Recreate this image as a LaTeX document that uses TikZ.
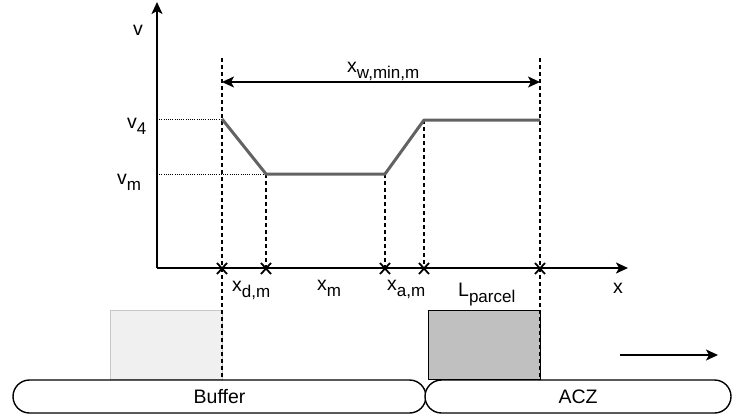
\documentclass[tikz,border=0pt]{standalone}
\usepackage{fontspec}
\setmainfont{Liberation Sans}
\usetikzlibrary{arrows.meta}
\definecolor{curvegray}{HTML}{626262}
\definecolor{parcelfill}{HTML}{C0C0C0}
\definecolor{ghostfill}{HTML}{F0F0F0}
\definecolor{ghostline}{HTML}{C8C8C8}
% symbol with a lowered, smaller subscript
\newcommand{\sublbl}[2]{#1\raisebox{-6pt}{\fontsize{17}{17}\selectfont #2}}
\begin{document}
\begin{tikzpicture}[x=1pt,y=-1pt,
  every node/.style={font=\fontsize{19.5}{22}\selectfont, inner sep=0pt},
  axis/.style={line width=1.8pt, -{Stealth[length=12pt,width=11pt,inset=3pt]}},
  guide/.style={line width=1.4pt, dash pattern=on 4pt off 3pt},
  level/.style={line width=1pt, dash pattern=on 1pt off 1.2pt},
  speed/.style={line width=3pt, draw=curvegray, line join=round},
  cross/.style={line width=1.8pt},
  belt/.style={draw, line width=1.4pt, rounded corners=16.5pt, fill=white,
    minimum height=33pt},
  load/.style={minimum width=112pt, minimum height=69pt, anchor=south west}
]
\useasboundingbox (0,0) rectangle (732,416);

% parcels standing on the belt
\node[load, draw=ghostline, fill=ghostfill, line width=1.2pt] (ghost) at (110,380) {};
\node[load, draw=black, fill=parcelfill, line width=1.4pt] (parcel) at (428,380) {};

% conveyor sections
\node[belt, minimum width=413pt] (buffer) at (219.5,396.5) {Buffer};
\node[belt, minimum width=306pt] (acz) at (578,396.5) {ACZ};

% axes
\coordinate (O) at (157,268);
\coordinate (ytop) at (157,2);
\coordinate (xend) at (628,268);
\draw[axis] (O) -- (ytop);
\draw[axis] (O) -- (xend);

% speed profile
\coordinate (s0) at (222,119);
\coordinate (s1) at (266,174);
\coordinate (s2) at (385,174);
\coordinate (s3) at (424,120);
\coordinate (s4) at (540,120);
\coordinate (v4y) at (157,119);
\coordinate (vmy) at (157,174);
\draw[level] (v4y) -- (s0);
\draw[level] (vmy) -- (s1);

% vertical guides
\coordinate (gLtop) at (222,58);
\coordinate (gLbot) at (222,380);
\coordinate (gRtop) at (540,58);
\coordinate (gRbot) at (540,380);
\coordinate (x0) at (222,268);
\coordinate (x1) at (266,268);
\coordinate (x2) at (385,268);
\coordinate (x3) at (424,268);
\coordinate (x4) at (540,268);
\draw[guide] (gLtop) -- (gLbot);
\draw[guide] (gRtop) -- (gRbot);
\draw[guide] (s1) -- (x1);
\draw[guide] (s2) -- (x2);
\draw[guide] (s3) -- (x3);

\draw[speed] (s0) -- (s1) -- (s2) -- (s3) -- (s4);

% span arrow
\coordinate (spanL) at (222,82);
\coordinate (spanR) at (540,82);
\draw[line width=1.4pt, {Stealth[length=12pt,width=11pt,inset=3pt]}-{Stealth[length=12pt,width=11pt,inset=3pt]}] (spanL) -- (spanR);

% crosses on the x axis
\foreach \p in {x0,x1,x2,x3,x4}
  \draw[cross] (\p) +(-5,-5) -- +(5,6) +(-5,6) -- +(5,-5);

% direction of travel
\coordinate (dirA) at (620,355);
\coordinate (dirB) at (718,355);
\draw[line width=1.4pt, -{Stealth[length=12pt,width=11pt,inset=3pt]}] (dirA) -- (dirB);

% labels
\node[anchor=base west] (vlab) at (133,35) {v};
\node[anchor=base west] (v4lab) at (127,128) {\sublbl{v}{4}};
\node[anchor=base west] (vmlab) at (117,184) {\sublbl{v}{m}};
\node[anchor=base west] (spanlab) at (347,72) {\sublbl{x}{w,min,m}};
\node[anchor=base west] (xdlab) at (232,291) {\sublbl{x}{d,m}};
\node[anchor=base west] (xmlab) at (317,290) {\sublbl{x}{m}};
\node[anchor=base west] (xalab) at (387,290) {\sublbl{x}{a,m}};
\node[anchor=base west] (Llab) at (458,296) {\sublbl{L}{parcel}};
\node[anchor=base west] (xlab) at (613,293) {x};
\end{tikzpicture}
\end{document}
